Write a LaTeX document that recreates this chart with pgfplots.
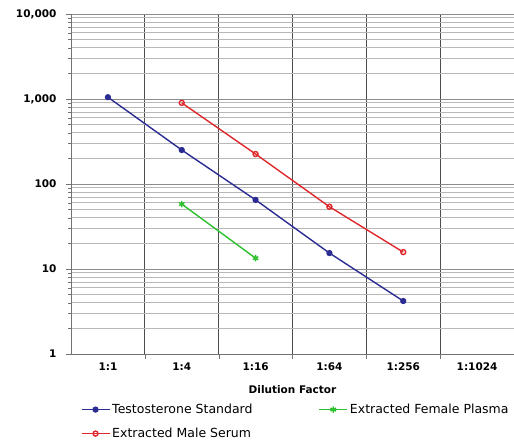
\documentclass[border=0pt]{standalone}
\usepackage{pgfplots}
\pgfplotsset{compat=1.18}
\usepackage{fontspec}
\setmainfont{DejaVu Sans}
\definecolor{stdblue}{HTML}{2B2B94}
\definecolor{malered}{HTML}{E0282C}
\definecolor{femgreen}{HTML}{2EC02E}

\begin{document}
\begin{tikzpicture}
\begin{axis}[
  scale only axis,
  width=443pt, height=340pt,
  ymode=log, ymin=1, ymax=10000,
  xmin=-0.5, xmax=5.5,
  axis lines*=left,
  axis line style={black!55},
  tick align=outside,
  % boundaries between categories carry the grid and the ticks
  xtick={0.5,1.5,2.5,3.5,4.5},
  xticklabels={},
  extra x ticks={0,1,2,3,4,5},
  extra x tick labels={1:1,1:4,1:16,1:64,1:256,1:1024},
  extra x tick style={grid=none, major tick length=0pt},
  ytick={1,10,100,1000,10000},
  yticklabels={1,10,100,{1,000},{10,000}},
  major tick length=5pt,
  tick style={black!55},
  ymajorgrids, yminorgrids, xmajorgrids,
  x grid style={black!70, line width=0.9pt},
  major grid style={black!45, line width=0.9pt},
  minor grid style={black!28, line width=0.8pt},
  minor y tick num=8,
  ticklabel style={font=\fontsize{10.5}{12}\selectfont\bfseries},
  xticklabel style={yshift=-5pt},
  yticklabel style={xshift=-6pt},
  xlabel={Dilution Factor},
  xlabel style={font=\fontsize{10.5}{12}\selectfont\bfseries, yshift=-3pt},
  legend columns=2,
  legend cell align=left,
  legend image code/.code={
    \draw[mark repeat=2, mark phase=2] plot coordinates {(0pt,0pt) (14pt,0pt) (28pt,0pt)};
  },
  legend style={draw=none, fill=none, font=\fontsize{12.5}{14}\selectfont,
    at={(axis description cs:0.015,-0.135)}, anchor=north west,
    /tikz/every even column/.append style={column sep=64pt},
    row sep=9pt},
]
\addplot[stdblue, line width=1.4pt, mark=*, mark size=2.4pt] coordinates {
  (0,1050) (1,251) (2,65) (3,15.4) (4,4.2)
};
\addlegendentry{Testosterone Standard}
\addplot[femgreen, line width=1.4pt, mark=asterisk, mark size=3.2pt] coordinates {
  (1,58) (2,13.4)
};
\addlegendentry{Extracted Female Plasma}
\addplot[malered, line width=1.4pt, mark=o, mark size=2.5pt, mark options={fill=white}] coordinates {
  (1,900) (2,225) (3,54) (4,15.8)
};
\addlegendentry{Extracted Male Serum}
\end{axis}
\pgfresetboundingbox
\path (current axis.south west) ++(-71pt,-92pt) coordinate (bbl);
\path (current axis.south west) ++(443pt,354pt) coordinate (btr);
\path (bbl) rectangle (btr);
\end{tikzpicture}
\end{document}
